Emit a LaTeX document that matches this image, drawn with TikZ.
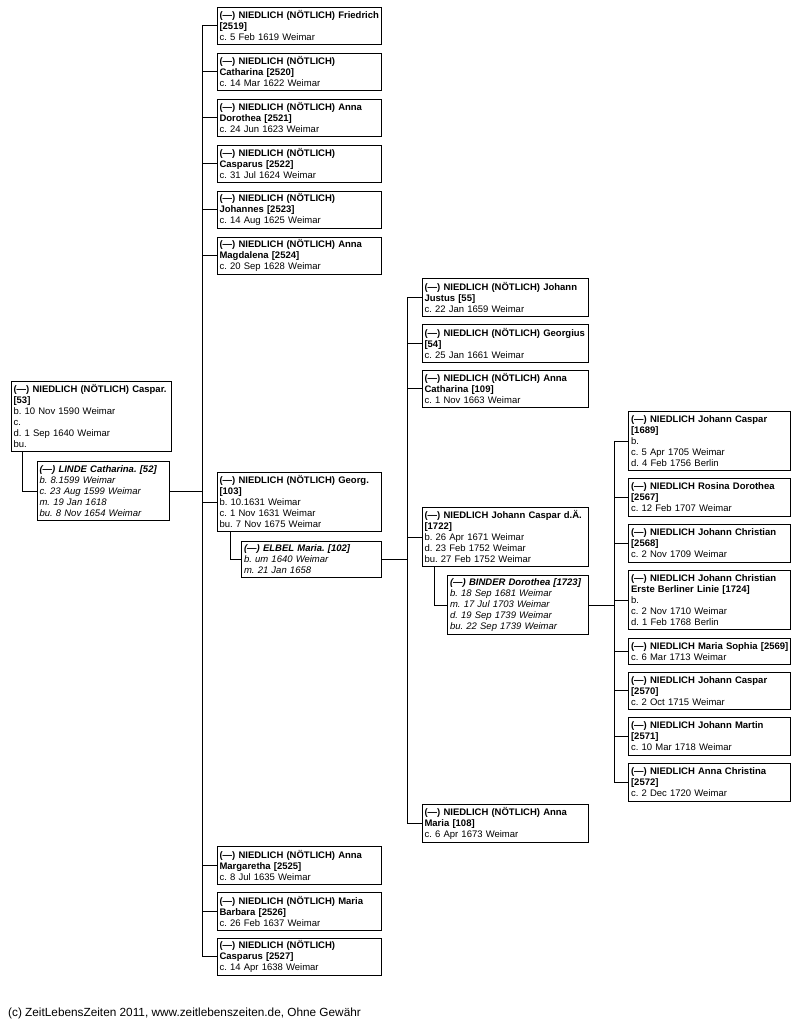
\documentclass[tikz,border=0pt]{standalone}
\usepackage{fontspec}
\setmainfont{Liberation Sans}
\frenchspacing
\newcommand\PN[1]{\mbox{\bfseries #1}}
\begin{document}
\begin{tikzpicture}[x=1pt,y=-1pt,
  every node/.style={font=\fontsize{9.5}{11}\selectfont\frenchspacing},
  pbox/.style={draw, line width=0.9pt, anchor=north west, inner xsep=2.6pt, inner ysep=0pt, align=left},
  spouse/.style={pbox, font=\fontsize{9.5}{11}\selectfont\frenchspacing\itshape},
  cA/.style={text width=155.3pt},
  cB/.style={text width=159.3pt},
  cC/.style={text width=161.3pt},
  cD/.style={text width=156.3pt},
  hII/.style={minimum height=26.5pt},
  hIII/.style={minimum height=37.5pt},
  hV/.style={minimum height=59pt},
  hVI/.style={minimum height=70pt},
  link/.style={line width=0.9pt}]
\useasboundingbox (0,0) rectangle (799,1026);
\fill[white] (0,0) rectangle (799,1026);

% generation 1
\node[pbox,cA,hVI] (p53) at (10.5,381) {\PN{(—) NIEDLICH (NÖTLICH) Caspar.}\\\PN{[53]}\\b. 10 Nov 1590 Weimar\\c.\\d. 1 Sep 1640 Weimar\\bu.};
\node[spouse,text width=127.3pt,hV] (p52) at (36.5,461) {\PN{(—) LINDE Catharina. [52]}\\b. 8.1599 Weimar\\c. 23 Aug 1599 Weimar\\m. 19 Jan 1618\\bu. 8 Nov 1654 Weimar};

% generation 2
\node[pbox,cB,hIII] (p2519) at (216.5,6.5) {\PN{(—) NIEDLICH (NÖTLICH) Friedrich}\\\PN{[2519]}\\c. 5 Feb 1619 Weimar};
\node[pbox,cB,hIII] (p2520) at (216.5,52.5) {\PN{(—) NIEDLICH (NÖTLICH)}\\\PN{Catharina [2520]}\\c. 14 Mar 1622 Weimar};
\node[pbox,cB,hIII] (p2521) at (216.5,98.5) {\PN{(—) NIEDLICH (NÖTLICH) Anna}\\\PN{Dorothea [2521]}\\c. 24 Jun 1623 Weimar};
\node[pbox,cB,hIII] (p2522) at (216.5,144.5) {\PN{(—) NIEDLICH (NÖTLICH)}\\\PN{Casparus [2522]}\\c. 31 Jul 1624 Weimar};
\node[pbox,cB,hIII] (p2523) at (216.5,190.5) {\PN{(—) NIEDLICH (NÖTLICH)}\\\PN{Johannes [2523]}\\c. 14 Aug 1625 Weimar};
\node[pbox,cB,hIII] (p2524) at (216.5,236.5) {\PN{(—) NIEDLICH (NÖTLICH) Anna}\\\PN{Magdalena [2524]}\\c. 20 Sep 1628 Weimar};
\node[pbox,cB,hV] (p103) at (216.5,472) {\PN{(—) NIEDLICH (NÖTLICH) Georg.}\\\PN{[103]}\\b. 10.1631 Weimar\\c. 1 Nov 1631 Weimar\\bu. 7 Nov 1675 Weimar};
\node[spouse,text width=134.8pt,minimum height=36pt] (p102) at (241,541) {\PN{(—) ELBEL Maria. [102]}\\b. um 1640 Weimar\\m. 21 Jan 1658};
\node[pbox,cB,hIII] (p2525) at (216.5,846) {\PN{(—) NIEDLICH (NÖTLICH) Anna}\\\PN{Margaretha [2525]}\\c. 8 Jul 1635 Weimar};
\node[pbox,cB,hIII] (p2526) at (216.5,892) {\PN{(—) NIEDLICH (NÖTLICH) Maria}\\\PN{Barbara [2526]}\\c. 26 Feb 1637 Weimar};
\node[pbox,cB,hIII] (p2527) at (216.5,937.5) {\PN{(—) NIEDLICH (NÖTLICH)}\\\PN{Casparus [2527]}\\c. 14 Apr 1638 Weimar};

% generation 3
\node[pbox,cC,hIII] (p55) at (421.5,278) {\PN{(—) NIEDLICH (NÖTLICH) Johann}\\\PN{Justus [55]}\\c. 22 Jan 1659 Weimar};
\node[pbox,cC,hIII] (p54) at (421.5,324) {\PN{(—) NIEDLICH (NÖTLICH) Georgius}\\\PN{[54]}\\c. 25 Jan 1661 Weimar};
\node[pbox,cC,hIII] (p109) at (421.5,369.5) {\PN{(—) NIEDLICH (NÖTLICH) Anna}\\\PN{Catharina [109]}\\c. 1 Nov 1663 Weimar};
\node[pbox,cC,hV] (p1722) at (421.5,507) {\PN{(—) NIEDLICH Johann Caspar d.Ä.}\\\PN{[1722]}\\b. 26 Apr 1671 Weimar\\d. 23 Feb 1752 Weimar\\bu. 27 Feb 1752 Weimar};
\node[spouse,text width=135.8pt,hV] (p1723) at (447,575) {\PN{(—) BINDER Dorothea [1723]}\\b. 18 Sep 1681 Weimar\\m. 17 Jul 1703 Weimar\\d. 19 Sep 1739 Weimar\\bu. 22 Sep 1739 Weimar};
\node[pbox,cC,hIII] (p108) at (421.5,804) {\PN{(—) NIEDLICH (NÖTLICH) Anna}\\\PN{Maria [108]}\\c. 6 Apr 1673 Weimar};

% generation 4
\node[pbox,cD,hV] (p1689) at (628,411) {\PN{(—) NIEDLICH Johann Caspar}\\\PN{[1689]}\\b.\\c. 5 Apr 1705 Weimar\\d. 4 Feb 1756 Berlin};
\node[pbox,cD,hIII] (p2567) at (628,478) {\PN{(—) NIEDLICH Rosina Dorothea}\\\PN{[2567]}\\c. 12 Feb 1707 Weimar};
\node[pbox,cD,hIII] (p2568) at (628,524) {\PN{(—) NIEDLICH Johann Christian}\\\PN{[2568]}\\c. 2 Nov 1709 Weimar};
\node[pbox,cD,hV] (p1724) at (628,570) {\PN{(—) NIEDLICH Johann Christian}\\\PN{Erste Berliner Linie [1724]}\\b.\\c. 2 Nov 1710 Weimar\\d. 1 Feb 1768 Berlin};
\node[pbox,cD,hII] (p2569) at (628,637.5) {\PN{(—) NIEDLICH Maria Sophia [2569]}\\c. 6 Mar 1713 Weimar};
\node[pbox,cD,hIII] (p2570) at (628,671.5) {\PN{(—) NIEDLICH Johann Caspar}\\\PN{[2570]}\\c. 2 Oct 1715 Weimar};
\node[pbox,cD,hIII] (p2571) at (628,717) {\PN{(—) NIEDLICH Johann Martin}\\\PN{[2571]}\\c. 10 Mar 1718 Weimar};
\node[pbox,cD,hIII] (p2572) at (628,763) {\PN{(—) NIEDLICH Anna Christina}\\\PN{[2572]}\\c. 2 Dec 1720 Weimar};

% junction coordinates
\coordinate (j1) at (202,0);
\coordinate (j2) at (407,0);
\coordinate (j3) at (614,0);

% couple connectors
\draw[link] (p53.south west) ++(11.5,0) |- (p52.west);
\draw[link] (p103.south west) ++(13.5,0) |- (p102.west);
\draw[link] (p1722.south west) ++(12.5,0) |- (p1723.west);

% family 1
\draw[link] (p52.east) -- (j1 |- p52.east);
\draw[link] (j1 |- p2519.west) -- (j1 |- p2527.west);
\foreach \c in {p2519,p2520,p2521,p2522,p2523,p2524,p103,p2525,p2526,p2527}
  \draw[link] (j1 |- \c.west) -- (\c.west);

% family 2
\draw[link] (p102.east) -- (j2 |- p102.east);
\draw[link] (j2 |- p55.west) -- (j2 |- p108.west);
\foreach \c in {p55,p54,p109,p1722,p108}
  \draw[link] (j2 |- \c.west) -- (\c.west);

% family 3
\draw[link] (p1723.east) -- (j3 |- p1723.east);
\draw[link] (j3 |- p1689.west) -- (j3 |- p2572.west);
\foreach \c in {p1689,p2567,p2568,p1724,p2569,p2570,p2571,p2572}
  \draw[link] (j3 |- \c.west) -- (\c.west);

% footer
\node[anchor=base west, inner sep=0pt, font=\fontsize{11.8}{13}\selectfont] (foot) at (8,1016.7) {(c) ZeitLebensZeiten 2011, www.zeitlebenszeiten.de, Ohne Gewähr};
\end{tikzpicture}
\end{document}
